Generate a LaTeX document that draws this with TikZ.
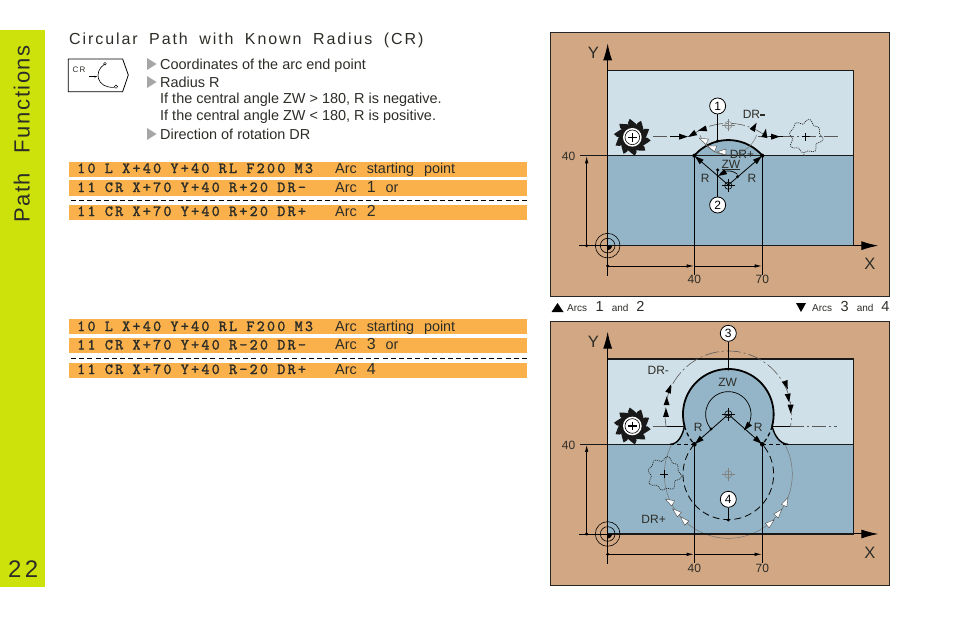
\documentclass[tikz,border=0pt]{standalone}
\usepackage{fontspec}
\setmainfont{Liberation Sans}
\newfontfamily\spacedfont[LetterSpace=7,WordSpace=2.6]{Liberation Sans}
\newfontfamily\numfont[LetterSpace=14]{Liberation Sans}
\newfontfamily\titlefont[LetterSpace=12,WordSpace=1.8]{Liberation Sans}
\newfontfamily\bodyfont[WordSpace=2.5]{Liberation Sans}
\newfontfamily\codefont[LetterSpace=14.4,WordSpace=0.9,FakeBold=1.5]{lmmono10-regular.otf}
\usetikzlibrary{arrows.meta}
\definecolor{tan}{RGB}{210,167,131}
\definecolor{lightb}{RGB}{208,224,232}
\definecolor{darkb}{RGB}{148,181,199}
\definecolor{sidegreen}{RGB}{205,226,10}
\definecolor{barorange}{RGB}{250,177,76}
\definecolor{ink}{RGB}{45,45,40}
\tikzset{
 frameline/.style={draw=black!85,line width=0.9pt},
 contour/.style={line width=1.4pt,draw=black!90},
 thinl/.style={line width=0.7pt,draw=black},
 dimarrow/.style={line width=0.7pt,-{Latex[length=7pt,width=3.5pt]}},
 axisarrow/.style={line width=1pt,-{Latex[length=17pt,width=9pt]}},
 dashdot/.style={line width=0.6pt,draw=black!65,dash pattern=on 14pt off 3pt on 2pt off 3pt},
 graythin/.style={line width=0.5pt,draw=black!55},
 callout/.style={circle,draw=black,line width=0.8pt,fill=white,minimum size=16pt,inner sep=0pt,font=\fontsize{12}{14}\selectfont},
 lab/.style={font=\fontsize{12}{13}\selectfont,text=ink,inner sep=0pt},
 axlab/.style={font=\fontsize{16.5}{18}\selectfont,text=ink,inner sep=0pt},
 bodytext/.style={anchor=base west,inner sep=0pt,text=ink,font=\fontsize{14.45}{16}\selectfont},
 codetext/.style={anchor=base west,inner sep=0pt,text=ink,font=\fontsize{15.4}{17}\codefont},
 commenttext/.style={anchor=base west,inner sep=0pt,text=ink,font=\fontsize{14.4}{16}\bodyfont},
}
\newcommand\arcc[6]{\draw[#1] plot[domain=#5:#6,samples=70] ({#2+#4*cos(\x)},{#3+#4*sin(\x)});}
\newcommand\tri[4]{\path[#1] ({#2+16*cos(#4)},{#3+16*sin(#4)}) -- ({#2+14*cos(#4+140)},{#3+14*sin(#4+140)}) -- ({#2+14*cos(#4-140)},{#3+14*sin(#4-140)}) -- cycle;}
\newcommand\bigdigit[1]{{\fontsize{16}{16}\selectfont #1}}
\newcommand\capdigit[1]{{\fontsize{14.5}{16}\selectfont #1}}
\newcommand\crosshair[4]{\draw[#4] (#1,#2) circle[radius=#3];
  \draw[#4] ({#1-1.7*#3},#2) -- ({#1+1.7*#3},#2) ({#1},{#2-1.7*#3}) -- ({#1},{#2+1.7*#3});}
\newcommand\cutterat[2]{%
  \foreach \a in {0,36,...,324}{%
    \fill[black!90] ({#1+36*cos(\a)},{#2+36*sin(\a)}) -- ({#1+46*cos(\a+2)},{#2+46*sin(\a+2)}) -- ({#1+56*cos(\a+10)},{#2+56*sin(\a+10)}) -- ({#1+47*cos(\a+22)},{#2+47*sin(\a+22)}) -- ({#1+41*cos(\a+36)},{#2+41*sin(\a+36)}) -- ({#1},{#2}) -- cycle;}
  \fill[black!90] (#1,#2) circle[radius=40];
  \fill[white] (#1,#2) circle[radius=28];
  \draw[black,line width=0.6pt] (#1,#2) circle[radius=22];
  \draw[black,line width=1.5pt] ({#1-13},#2) -- ({#1+13},#2) ({#1},{#2-13}) -- ({#1},{#2+13});}
\newcommand\ghostat[2]{%
  \draw[black!85,line width=0.7pt,dash pattern=on 1pt off 1pt] plot[domain=0:360,samples=46] ({#1+(46+5*sin(8*\x)+3*cos(5*\x))*cos(\x)},{#2+(46+5*sin(8*\x)+3*cos(5*\x))*sin(\x)});
  \draw[black,line width=0.7pt] ({#1-12},#2) -- ({#1+12},#2) ({#1},{#2-12}) -- ({#1},{#2+12});}
\newcommand\originat[2]{%
  \draw[black,line width=0.6pt] (#1,#2) circle[radius=37];
  \draw[black,line width=0.6pt] (#1,#2) circle[radius=22];
  \fill[black] plot[domain=0:90,samples=12] ({#1+13*cos(\x)},{#2+13*sin(\x)}) -- (#1,#2) -- cycle;}
\begin{document}
\begin{tikzpicture}[x=1pt,y=-1pt]
\useasboundingbox (0,0) rectangle (954,618);
\fill[white] (0,0) rectangle (954,618);
% side bar
\fill[sidegreen] (0,30) rectangle (45,587);
\node[rotate=90,anchor=base west,inner sep=0pt,text=ink,font=\fontsize{22}{24}\spacedfont] (sidetitle) at (29.5,223) {Path Functions};
\node[anchor=base west,inner sep=0pt,text=ink,font=\fontsize{24}{26}\numfont] (pagenum) at (8,577) {22};
% heading
\node[anchor=base west,inner sep=0pt,text=ink,font=\fontsize{16}{18}\titlefont] (title) at (69,45) {Circular Path with Known Radius (CR)};
% soft key icon
\begin{scope}[shift={(60,25)},x=0.3333pt,y=-0.3333pt]
 \draw[black,line width=0.8pt] (25,102) -- (188,102) -- (205,150) -- (188,200) -- (25,200) -- cycle;
 \node[inner sep=0pt,font=\fontsize{8}{9}\selectfont,text=ink] (iconcr) at (57,135) {C\,R};
 \draw[black,line width=0.5pt,-{Latex[length=3pt,width=2pt]}] (88,155) -- (113,155);
 \draw[black,line width=0.6pt] (133,118) .. controls (100,140) and (110,190) .. (163,187);
 \draw[black,line width=0.4pt] (135,116) circle[radius=4];
 \draw[black,line width=0.4pt] (168,185) circle[radius=5];
\end{scope}
% bullets
\foreach \yy in {64,82,134}{\fill[black!35] (147,\yy-6) -- (156.5,\yy) -- (147,\yy+6) -- cycle;}
\node[bodytext] (b1) at (160,69.5) {Coordinates of the arc end point};
\node[bodytext] (b2) at (160,87.5) {Radius R};
\node[bodytext] (b3) at (160,103.5) {If the central angle ZW > 180, R is negative.};
\node[bodytext] (b4) at (160,120.5) {If the central angle ZW < 180, R is positive.};
\node[bodytext] (b5) at (160,139.5) {Direction of rotation DR};
% program bars 1
\fill[barorange] (69,162.3) rectangle (527,177);
\fill[barorange] (69,180) rectangle (527,195.7);
\fill[barorange] (69,205) rectangle (527,220);
\draw[black,line width=0.6pt,dash pattern=on 5pt off 3.2pt] (71,200) -- (527,200);
\node[codetext] (c1) at (77,173) {10 L X+40 Y+40 RL F200 M3};
\node[commenttext] (d1) at (335,173) {Arc starting point};
\node[codetext] (c2) at (77,192) {11 CR X+70 Y+40 R+20 DR-};
\node[commenttext] (d2) at (335,192) {Arc \bigdigit{1} or};
\node[codetext] (c3) at (77,216) {11 CR X+70 Y+40 R+20 DR+};
\node[commenttext] (d3) at (335,216) {Arc \bigdigit{2}};
% program bars 2
\fill[barorange] (69,319) rectangle (527,334);
\fill[barorange] (69,337.5) rectangle (527,353);
\fill[barorange] (69,362.5) rectangle (527,377.5);
\draw[black,line width=0.6pt,dash pattern=on 5pt off 3.2pt] (71,358) -- (527,358);
\node[codetext] (c4) at (77,331) {10 L X+40 Y+40 RL F200 M3};
\node[commenttext] (d4) at (335,331) {Arc starting point};
\node[codetext] (c5) at (77,349.5) {11 CR X+70 Y+40 R-20 DR-};
\node[commenttext] (d5) at (335,349.5) {Arc \bigdigit{3} or};
\node[codetext] (c6) at (77,374) {11 CR X+70 Y+40 R-20 DR+};
\node[commenttext] (d6) at (335,374) {Arc \bigdigit{4}};
% captions
\fill[black] (551.5,312) -- (557.5,303) -- (563.5,312) -- cycle;
\node[anchor=base west,inner sep=0pt,text=ink,font=\fontsize{10}{12}\selectfont] (cap1) at (567,311) {Arcs\hspace{8.5pt}\capdigit{1}\hspace{8pt}and\hspace{8pt}\capdigit{2}};
\fill[black] (796,303) -- (806,303) -- (801,312) -- cycle;
\node[anchor=base west,inner sep=0pt,text=ink,font=\fontsize{10}{12}\selectfont] (cap2) at (812,311) {Arcs\hspace{8.5pt}\capdigit{3}\hspace{8pt}and\hspace{8pt}\capdigit{4}};
% ===== panel 1 =====
\begin{scope}[shift={(550,30)},x=0.3333pt,y=-0.3333pt]
 \fill[tan] (0,7) rectangle (1018,798);
 \draw[frameline] (0,7) rectangle (1018,798);
 \fill[lightb] (173,122) rectangle (911,377);
 \fill[darkb] (173,377) rectangle (911,647);
 \fill[darkb] plot[domain=220.8:319.2,samples=40] ({535+134.7*cos(\x)},{465+134.7*sin(\x)}) -- cycle;
 \draw[contour] (173,122) rectangle (911,647);
 \draw[contour] (90,377) -- (911,377);
 \arcc{line width=1.8pt,black}{535}{465}{134.7}{220.8}{319.2}
 % paths
 \arcc{graythin}{535}{285}{90}{160}{20}
 \draw[dashdot] (310,320) -- (410,320);
 \draw[thinl] (360,320) -- (400,320);
 \arcc{dashdot}{535}{465}{185}{231.6}{308.4}
 \draw[dashdot] (625,320) -- (870,320);
 \draw[thinl] (660,320) -- (700,320);
 \crosshair{535}{285}{11}{black!50,line width=0.5pt}
 \crosshair{535}{467}{11}{black,line width=0.6pt}
 \cutterat{247}{322}
 \ghostat{767}{320}
 \draw[black!60,line width=0.5pt] (760,372) -- (766,377);
 \tri{fill=black}{398}{320}{0}
 \tri{fill=black}{428}{313}{150}
 \tri{fill=black}{459}{298}{165}
 \tri{fill=black}{612}{292}{300}
 \tri{fill=black}{645}{312}{280}
 \tri{fill=black}{674}{320}{0}
 \tri{fill=white,draw=black!70,line width=0.4pt}{462}{331}{205}
 \tri{fill=white,draw=black!70,line width=0.4pt}{487}{353}{200}
 \tri{fill=white,draw=black!70,line width=0.4pt}{517}{366}{180}
 % R lines
 \draw[black,line width=0.8pt] (433,377) -- (535,465) -- (637,377);
 \tri{fill=black}{447}{389}{221}
 \tri{fill=black}{623}{389}{-41}
 \fill[black] (433,377) circle[radius=6];
 \fill[black] (637,377) circle[radius=6];
 \fill[black] (563,440) circle[radius=5];
 \fill[black] (503,420) circle[radius=5];
 \arcc{black,line width=0.7pt}{535}{465}{42}{310}{235}
 \tri{fill=black}{518}{430}{150}
 % dims
 \draw[axisarrow] (173,647) -- (173,40);
 \draw[contour] (173,647) -- (911,647);
 \draw[axisarrow] (911,647) -- (985,647);
 \originat{173}{647}
 \draw[thinl] (88,647) -- (173,647) (173,647) -- (173,738);
 \draw[thinl] (433,377) -- (433,735) (637,377) -- (637,735);
 \draw[dimarrow] (110,647) -- (110,379);
 \fill[black] (110,647) circle[radius=5];
 \draw[dimarrow] (173,708) -- (431,708);
 \draw[dimarrow] (433,708) -- (635,708);
 \fill[black] (173,708) circle[radius=5];
 % callouts
 \node[callout] (n1) at (503,228) {1};
 \node[callout] (n2) at (503,525) {2};
 \draw[thinl] (n1) -- (503,333);
 \draw[thinl] (n2) -- (503,420);
 \fill[black] (503,333) circle[radius=5];
 % labels
 \node[lab] (p1y40) at (56,379) {40};
 \node[lab] (p1x40) at (433,749) {40};
 \node[lab] (p1x70) at (637,749) {70};
 \node[axlab] (p1Y) at (130,68) {Y};
 \node[axlab] (p1X) at (960,703) {X};
 \node[lab] (p1drm) at (612,253) {DR\rule[2.9pt]{5pt}{1.2pt}};
 \node[lab] (p1drp) at (576,372) {DR+};
 \node[lab] (p1zw) at (543,405) {\underline{ZW}};
 \node[lab] (p1r1) at (466,444) {R};
 \node[lab] (p1r2) at (606,444) {R};
\end{scope}
% ===== panel 2 =====
\begin{scope}[shift={(550,300)},x=0.3333pt,y=-0.3333pt]
 \fill[tan] (0,65) rectangle (1018,855);
 \draw[frameline] (0,65) rectangle (1018,855);
 \fill[lightb] (173,177) rectangle (911,433);
 \fill[darkb] (173,433) rectangle (911,702);
 \fill[darkb] (360,433) .. controls (385,433) and (398,405) .. (403.6,378) -- plot[domain=165:375,samples=60] ({535+136*cos(\x)},{343+136*sin(\x)}) .. controls (672,405) and (690,433) .. (715,433) -- cycle;
 \draw[contour] (173,177) rectangle (911,702);
 \draw[contour] (90,433) -- (360,433);
 \draw[contour] (715,433) -- (911,433);
 \draw[black,line width=1.4pt] (403.6,378) .. controls (398,405) and (385,433) .. (360,433);
 \draw[black,line width=1.4pt] (666.4,378) .. controls (672,405) and (690,433) .. (715,433);
 \arcc{line width=1.8pt,black}{535}{343}{136}{165}{375}
 \draw[black,line width=1.2pt,dash pattern=on 4pt off 3pt] (360,433) -- (433,433) (637,433) -- (715,433);
 \arcc{black,line width=1.2pt,dash pattern=on 4pt off 3pt}{535}{343}{136}{165}{139}
 \arcc{black,line width=1.2pt,dash pattern=on 4pt off 3pt}{535}{343}{136}{15}{41}
 % paths
 \draw[dashdot] (310,378) -- (350,378);
 \draw[thinl] (350,378) -- (405,378);
 \draw[thinl] (668,378) -- (720,378);
 \draw[dashdot] (720,378) -- (862,378);
 \arcc{dashdot}{535}{343}{190}{169}{371}
 \arcc{graythin}{535}{523}{192}{207}{-27}
 \arcc{black,line width=0.8pt,dash pattern=on 7pt off 4pt}{535}{523}{136}{221.4}{-41.4}
 \crosshair{535}{523}{11}{black!50,line width=0.5pt}
 \crosshair{535}{343}{11}{black,line width=0.6pt}
 \cutterat{247}{378}
 \ghostat{343}{522}
 \tri{fill=black}{348}{340}{270}
 \tri{fill=black}{350}{305}{270}
 \tri{fill=black}{358}{268}{290}
 \tri{fill=black}{708}{253}{70}
 \tri{fill=black}{715}{292}{80}
 \tri{fill=black}{722}{325}{90}
 \tri{fill=white,draw=black!70,line width=0.4pt}{360}{605}{210}
 \tri{fill=white,draw=black!70,line width=0.4pt}{380}{637}{220}
 \tri{fill=white,draw=black!70,line width=0.4pt}{403}{662}{225}
 \tri{fill=white,draw=black!70,line width=0.4pt}{660}{670}{-40}
 \tri{fill=white,draw=black!70,line width=0.4pt}{685}{640}{-50}
 \tri{fill=white,draw=black!70,line width=0.4pt}{707}{607}{-65}
 % R lines
 \draw[black,line width=0.8pt] (433,433) -- (535,343) -- (637,433);
 \tri{fill=black}{447}{421}{139}
 \tri{fill=black}{623}{421}{41}
 \fill[black] (433,433) circle[radius=7];
 \fill[black] (637,433) circle[radius=7];
 \fill[black] (483,387) circle[radius=5];
 \arcc{black,line width=0.7pt}{535}{343}{68}{140}{388}
 \tri{fill=black}{592}{379}{130}
 % dims
 \draw[axisarrow] (173,702) -- (173,95);
 \draw[contour] (173,702) -- (911,702);
 \draw[axisarrow] (911,702) -- (985,702);
 \originat{173}{702}
 \draw[thinl] (88,702) -- (173,702) (173,702) -- (173,793);
 \draw[thinl] (433,433) -- (433,790) (637,433) -- (637,790);
 \draw[dimarrow] (110,702) -- (110,435);
 \fill[black] (110,702) circle[radius=5];
 \draw[dimarrow] (173,763) -- (431,763);
 \draw[dimarrow] (433,763) -- (635,763);
 \fill[black] (173,763) circle[radius=5];
 % callouts
 \node[callout] (n3) at (535,100) {3};
 \node[callout] (n4) at (535,598) {4};
 \draw[thinl] (n3) -- (535,207);
 \draw[thinl] (n4) -- (535,660);
 \fill[black] (535,207) circle[radius=5];
 \fill[black] (535,660) circle[radius=5];
 % labels
 \node[lab] (p2y40) at (56,435) {40};
 \node[lab] (p2x40) at (433,804) {40};
 \node[lab] (p2x70) at (637,804) {70};
 \node[axlab] (p2Y) at (130,125) {Y};
 \node[axlab] (p2X) at (960,758) {X};
 \node[lab] (p2drm) at (325,210) {DR-};
 \node[lab] (p2drp) at (311,658) {DR+};
 \node[lab] (p2zw) at (533,246) {ZW};
 \node[lab] (p2r1) at (445,383) {R};
 \node[lab] (p2r2) at (625,383) {R};
\end{scope}
\end{tikzpicture}
\end{document}
